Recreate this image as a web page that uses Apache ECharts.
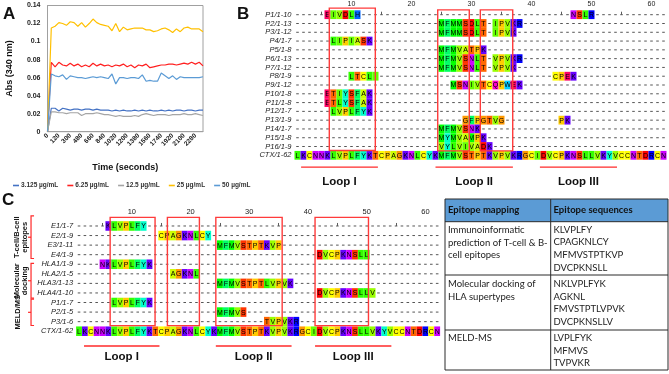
<!DOCTYPE html>
<html><head><meta charset="utf-8">
<script src="https://cdn.jsdelivr.net/npm/echarts@6/dist/echarts.min.js"></script>
<style>html,body{margin:0;padding:0;background:#fff}#c{width:669px;height:374px}</style>
</head><body><div id="c"></div>
<script>
// ---------- Panel A data ----------
const timeCategories = ['0','40','80','120','180','240','300','360','420','480','540','600','660','720','780','840','900','960','1020','1080','1140','1200','1260','1320','1380','1440','1500','1560','1620','1680','1740','1800','1860','1920','1980','2040','2100','2160','2220','2280','2340','2400'];
const seriesNames = ['3.125 µg/mL','6.25 µg/mL','12.5 µg/mL','25 µg/mL','50 µg/mL'];
const seriesColors = ['#4472C4','#FF2020','#A5A5A5','#FFC000','#5B9BD5'];
const conc3125 = [0,0.026,0.026,0.023,0.026,0.025,0.024,0.025,0.025,0.024,0.025,0.025,0.024,0.025,0.024,0.024,0.024,0.023,0.024,0.023,0.024,0.023,0.023,0.024,0.023,0.024,0.023,0.024,0.023,0.023,0.024,0.023,0.024,0.023,0.024,0.024,0.023,0.024,0.024,0.023,0.024,0.024];
const conc625 = [0,0.077,0.072,0.077,0.074,0.073,0.076,0.073,0.075,0.072,0.074,0.072,0.076,0.073,0.075,0.073,0.074,0.072,0.074,0.073,0.075,0.072,0.074,0.071,0.074,0.073,0.075,0.071,0.072,0.073,0.074,0.074,0.075,0.075,0.074,0.075,0.076,0.075,0.077,0.075,0.077,0.073];
const conc125 = [0,0.022,0.022,0.021,0.021,0.020,0.021,0.021,0.021,0.018,0.020,0.020,0.020,0.021,0.020,0.019,0.019,0.018,0.017,0.018,0.017,0.017,0.017,0.018,0.017,0.019,0.020,0.019,0.018,0.019,0.019,0.019,0.018,0.019,0.019,0.019,0.020,0.019,0.019,0.020,0.019,0.018];
const conc25 = [0,0.115,0.117,0.121,0.120,0.118,0.122,0.121,0.117,0.121,0.116,0.120,0.125,0.121,0.119,0.118,0.117,0.112,0.120,0.111,0.116,0.113,0.114,0.115,0.115,0.115,0.113,0.113,0.111,0.112,0.114,0.115,0.113,0.110,0.114,0.111,0.115,0.116,0.114,0.114,0.114,0.111];
const conc50 = [0,0.064,0.062,0.061,0.063,0.058,0.062,0.061,0.060,0.060,0.059,0.060,0.061,0.060,0.061,0.060,0.059,0.064,0.053,0.060,0.060,0.059,0.060,0.060,0.059,0.063,0.056,0.057,0.056,0.056,0.065,0.062,0.059,0.062,0.058,0.061,0.060,0.060,0.060,0.060,0.060,0.061];

// ---------- Alignment data ----------
const ctxSeq = 'LKCNNKLVPLFYKTCPAGKNLCYKMFMVSTPTKVPVKRGCIDVCPKNSLLVKYVCCNTDRCN';
const bNames = ['P1/1-10','P2/1-13','P3/1-12','P4/1-7','P5/1-8','P6/1-13','P7/1-12','P8/1-9','P9/1-12','P10/1-8','P11/1-8','P12/1-7','P13/1-9','P14/1-7','P15/1-8','P16/1-9','CTX/1-62'];
const bSegments = [
  [[6,'EIVDLH'],[47,'NSLR']],
  [[25,'MFMMSDLT'],[34,'IPVKR']],
  [[25,'MFMMSDLT'],[34,'IPVK']],
  [[7,'LIPIASK']],
  [[25,'MFMVATPK']],
  [[25,'MFMVSNLT'],[34,'VPVKR']],
  [[25,'MFMVSNLT'],[34,'VPVK']],
  [[10,'LTCLI'],[44,'CPEK']],
  [[27,'MSNIVTCQPWEK']],
  [[6,'ETIYSFAK']],
  [[6,'ETLYSFAK']],
  [[7,'LVPLFYK']],
  [[29,'GFPGTVG'],[45,'PK']],
  [[25,'MFMVSNK']],
  [[25,'MYMVAMPK']],
  [[25,'VYLVIVADK']],
  [[1,ctxSeq]]
];
const bBoxes = [[6.3,13.97,-0.75,15.45],[24.37,29.63,-0.55,15.5],[31.47,36.87,-0.55,15.5]];
const bLoops = [[1.6,14.4],[24.0,36.9],[41.4,54.25]];
const loopNames = ['Loop I','Loop II','Loop III'];

const cNames = ['E1/1-7','E2/1-9','E3/1-11','E4/1-9','HLA1/1-9','HLA2/1-5','HLA3/1-13','HLA4/1-10','P1/1-7','P2/1-5','P3/1-6','CTX/1-62'];
const cSegments = [
  [[6,'KLVPLFY']],
  [[15,'CPAGKNLCY']],
  [[25,'MFMVSTPTKVP']],
  [[42,'DVCPKNSLL']],
  [[5,'NKLVPLFYK']],
  [[17,'AGKNL']],
  [[25,'MFMVSTPTLVPVK']],
  [[42,'DVCPKNSLLV']],
  [[7,'LVPLFYK']],
  [[25,'MFMVS']],
  [[33,'TVPVKR']],
  [[1,ctxSeq]]
];
const cBoxes = [[6.3,13.95,-0.9,10.42],[16.05,21.5,-0.9,10.42],[24.3,35.6,-0.9,10.42],[41.2,50.3,-0.9,10.42]];
const cLoops = [[1.85,14.7],[24.3,37.2],[41.2,54.2]];
const cGroups = [[-1.05,3.4],[3.9,7.55],[7.65,10.4]];
const cGroupLabels = ['T-cell/B-cell\nepitopes','Molecular\ndocking','MELD/MS'];

const tableHeader = ['Epitope mapping','Epitope sequences'];
const tableMethods = [['Immunoinformatic','prediction of T-cell & B-','cell epitopes'],['Molecular docking of','HLA supertypes'],['MELD-MS']];
const tableSequences = [['KLVPLFY','CPAGKNLCY','MFMVSTPTKVP','DVCPKNSLL'],['NKLVPLFYK','AGKNL','FMVSTPTLVPVK','DVCPKNSLLV'],['LVPLFYK','MFMVS','TVPVKR']];

const taylor = {A:'#CCFF00',R:'#0000FF',N:'#CC00FF',D:'#FF0000',C:'#FFFF00',Q:'#FF00CC',E:'#FF0066',G:'#FF9900',H:'#0066FF',I:'#66FF00',L:'#33FF00',K:'#6600FF',M:'#00FF00',F:'#00FF66',P:'#FFCC00',S:'#FF3300',T:'#FF6600',W:'#00CCFF',Y:'#00FFCC',V:'#99FF00'};
const FONT = 'Liberation Sans, Arial, sans-serif';

function buildCells(segs){
  const pts=[], chars=[];
  segs.forEach((rowSegs,r)=>{
    const line = new Array(62).fill('-');
    rowSegs.forEach(([s,str])=>{ for(let i=0;i<str.length;i++) line[s-1+i]=str[i]; });
    line.forEach((ch,i)=>{ pts.push([i+1,r]); chars.push(ch); });
  });
  return {pts, chars};
}
const bCells = buildCells(bSegments);
const cCells = buildCells(cSegments);

function cellRenderer(chars, fs){
  return function(params, api){
    const ch = chars[params.dataIndex];
    const p = api.coord([api.value(0), api.value(1)]);
    const sz = api.size([1,1]);
    if (ch === '-') return {type:'rect', shape:{x:p[0]-1.3,y:p[1]-0.5,width:2.6,height:1}, style:{fill:'#555'}};
    return {type:'group', children:[
      {type:'rect', shape:{x:p[0]-sz[0]/2, y:p[1]-sz[1]/2, width:sz[0], height:sz[1]}, style:{fill:taylor[ch]||'#ccc'}},
      {type:'text', style:{text:ch, x:p[0], y:p[1]+0.5, align:'center', verticalAlign:'middle', fontSize:fs, fontFamily:FONT, fill:'#000'}}
    ]};
  };
}
function boxRenderer(params, api){
  const a = api.coord([api.value(0), api.value(2)]);
  const b = api.coord([api.value(1), api.value(3)]);
  return {type:'rect', shape:{x:Math.min(a[0],b[0]), y:Math.min(a[1],b[1]), width:Math.abs(b[0]-a[0]), height:Math.abs(b[1]-a[1])}, style:{fill:'none', stroke:'#FF3B3B', lineWidth:1.4}};
}
function loopRenderer(lineRow, labelRow){
  return function(params, api){
    const x0 = api.value(0), x1 = api.value(1);
    const a = api.coord([x0, lineRow]), b = api.coord([x1, lineRow]);
    const t = api.coord([(x0+x1)/2, labelRow]);
    return {type:'group', children:[
      {type:'line', shape:{x1:a[0],y1:a[1],x2:b[0],y2:b[1]}, style:{stroke:'#FF2A2A', lineWidth:1.4}},
      {type:'text', style:{text:loopNames[params.dataIndex], x:t[0], y:t[1], align:'center', verticalAlign:'middle', fontSize:11.5, fontWeight:'bold', fontFamily:FONT, fill:'#111'}}
    ]};
  };
}
function groupRenderer(params, api){
  const a = api.coord([1, api.value(0)]), b = api.coord([1, api.value(1)]);
  const x = a[0]-48, ym = (a[1]+b[1])/2;
  const single = cGroupLabels[params.dataIndex].indexOf('\n') < 0;
  return {type:'group', children:[
    {type:'polyline', shape:{points:[[x+3,a[1]],[x,a[1]],[x,b[1]],[x+3,b[1]]]}, style:{stroke:'#FF2A2A', lineWidth:1.2, fill:'none'}},
    {type:'line', shape:{x1:x, y1:ym, x2:x-3, y2:ym}, style:{stroke:'#FF2A2A', lineWidth:1.2}},
    {type:'text', x: single ? x-13 : x-10.5, y: ym, rotation: Math.PI/2, style:{text:cGroupLabels[params.dataIndex], align:'center', verticalAlign:'middle', fontSize:7.5, lineHeight:8, fontWeight:'bold', fontFamily:FONT, fill:'#111'}}
  ]};
}

const chart = echarts.init(document.getElementById('c'), null, {renderer:'canvas'});

const lineData = [conc3125, conc625, conc125, conc25, conc50];
const lineSeries = seriesNames.map((n,i)=>({
  name:n, type:'line', xAxisIndex:0, yAxisIndex:0, data:lineData[i], showSymbol:false, symbol:'none',
  lineStyle:{color:seriesColors[i], width:1.2}, itemStyle:{color:seriesColors[i]}, animation:false
}));

// Table graphic
const tL=445, tR=668, tM=550.7, tTop=199, tHead=221.7, rowBottoms=[275,330,370];
const methodY = [[230,242.5,255],[284.3,296.7],[338.3]];
const seqY = [[230,242.3,255,267.7],[284.3,296.7,309.3,321.7],[338.3,350.7,363.3]];
const graphic = [
  {type:'text', left:3, top:6, style:{text:'A', font:'bold 17px '+FONT, fill:'#111'}},
  {type:'text', left:237, top:6, style:{text:'B', font:'bold 17px '+FONT, fill:'#111'}},
  {type:'text', left:2, top:192, style:{text:'C', font:'bold 17px '+FONT, fill:'#111'}},
  {type:'rect', shape:{x:tL,y:tTop,width:tR-tL,height:tHead-tTop}, style:{fill:'#5B9BD5'}},
  {type:'rect', shape:{x:tL,y:tTop,width:tR-tL,height:rowBottoms[2]-tTop}, style:{fill:'none', stroke:'#2b2b2b', lineWidth:1}},
  {type:'line', shape:{x1:tM,y1:tTop,x2:tM,y2:rowBottoms[2]}, style:{stroke:'#2b2b2b', lineWidth:1}},
  {type:'line', shape:{x1:tL,y1:tHead,x2:tR,y2:tHead}, style:{stroke:'#2b2b2b', lineWidth:1}},
  {type:'line', shape:{x1:tL,y1:rowBottoms[0],x2:tR,y2:rowBottoms[0]}, style:{stroke:'#2b2b2b', lineWidth:1}},
  {type:'line', shape:{x1:tL,y1:rowBottoms[1],x2:tR,y2:rowBottoms[1]}, style:{stroke:'#2b2b2b', lineWidth:1}},
  {type:'text', x:448, y:210, style:{text:tableHeader[0], font:'bold 9.5px Lato, '+FONT, fill:'#111', verticalAlign:'middle'}},
  {type:'text', x:553.5, y:210, style:{text:tableHeader[1], font:'bold 9.5px Lato, '+FONT, fill:'#111', verticalAlign:'middle'}}
];
tableMethods.forEach((lines,r)=>lines.forEach((t,k)=>graphic.push({type:'text', x:448, y:methodY[r][k], style:{text:t, font:'9.5px Lato, '+FONT, fill:'#222', verticalAlign:'middle'}})));
tableSequences.forEach((lines,r)=>lines.forEach((t,k)=>graphic.push({type:'text', x:553.5, y:seqY[r][k], style:{text:t, font:'9.5px Lato, '+FONT, fill:'#222', verticalAlign:'middle'}})));

const alignXAxis = (gi, off, tickLen, margin, fs) => ({
  type:'value', gridIndex:gi, min:0.5, max:62.5, position:'top', offset:off,
  axisLine:{show:false}, splitLine:{show:false},
  axisTick:{show:true, customValues:[5,15,25,35,45,55], length:tickLen, lineStyle:{color:'#333', width:0.8}},
  axisLabel:{show:true, customValues:[10,20,30,40,50,60], margin:margin, fontSize:fs, fontFamily:FONT, color:'#222'}
});
const alignYAxis = (gi, names, fs) => ({
  type:'value', gridIndex:gi, min:-0.5, max:names.length-0.5, inverse:true,
  axisLine:{show:false}, axisTick:{show:false}, splitLine:{show:false},
  axisLabel:{show:true, customValues:names.map((_,i)=>i), formatter:(v)=>names[Math.round(v)]||'', margin:3, fontSize:fs, fontStyle:'italic', fontFamily:FONT, color:'#222'}
});

const option = {
  animation:false,
  backgroundColor:'#fff',
  grid:[
    {left:47.5, top:5.5, width:155.5, height:126.2, show:true, borderColor:'#A0A0A0', borderWidth:1, backgroundColor:'transparent'},
    {left:294.5, top:10.3, width:372, height:149.4},
    {left:76.1, top:221.2, width:364, height:114.8}
  ],
  legend:{data:seriesNames, left:13, top:182, padding:0, itemGap:9, itemWidth:6, itemHeight:1.6, icon:'rect',
    textStyle:{fontSize:6.5, fontWeight:'bold', fontFamily:FONT, color:'#333', padding:[0,0,0,-3]}},
  xAxis:[
    {type:'category', gridIndex:0, data:timeCategories, boundaryGap:false,
     axisLine:{lineStyle:{color:'#A0A0A0'}}, axisTick:{show:false},
     axisLabel:{interval:2, rotate:45, fontSize:6.5, fontWeight:'bold', fontFamily:FONT, color:'#222', margin:3},
     name:'Time (seconds)', nameLocation:'middle', nameGap:31, nameTextStyle:{fontSize:9, fontWeight:'bold', fontFamily:FONT, color:'#111'}},
    alignXAxis(1, 3, 3, 0, 7),
    alignXAxis(2, 2, 3, 3, 7.5)
  ],
  yAxis:[
    {type:'value', gridIndex:0, min:0, max:0.14, interval:0.02,
     axisLine:{show:true, lineStyle:{color:'#A0A0A0'}}, axisTick:{show:false}, splitLine:{show:false},
     axisLabel:{fontSize:7, fontWeight:'bold', fontFamily:FONT, color:'#222', margin:7},
     name:'Abs (340 nm)', nameLocation:'middle', nameGap:33, nameTextStyle:{fontSize:9, fontWeight:'bold', fontFamily:FONT, color:'#111'}},
    alignYAxis(1, bNames, 7.5),
    alignYAxis(2, cNames, 7.5)
  ],
  graphic: graphic,
  series: lineSeries.concat([
    {type:'custom', xAxisIndex:1, yAxisIndex:1, data:bCells.pts, renderItem:cellRenderer(bCells.chars, 7), encode:{x:0,y:1}, z:2, silent:true},
    {type:'custom', xAxisIndex:1, yAxisIndex:1, data:bBoxes, renderItem:boxRenderer, z:5, silent:true},
    {type:'custom', xAxisIndex:1, yAxisIndex:1, data:bLoops, renderItem:loopRenderer(17.35, 19.0), z:5, silent:true},
    {type:'custom', xAxisIndex:2, yAxisIndex:2, data:cCells.pts, renderItem:cellRenderer(cCells.chars, 7), encode:{x:0,y:1}, z:2, silent:true},
    {type:'custom', xAxisIndex:2, yAxisIndex:2, data:cBoxes, renderItem:boxRenderer, z:5, silent:true},
    {type:'custom', xAxisIndex:2, yAxisIndex:2, data:cLoops, renderItem:loopRenderer(12.54, 13.7), z:5, silent:true},
    {type:'custom', xAxisIndex:2, yAxisIndex:2, data:cGroups, renderItem:groupRenderer, z:5, silent:true}
  ])
};
chart.setOption(option);
</script>
</body></html>
